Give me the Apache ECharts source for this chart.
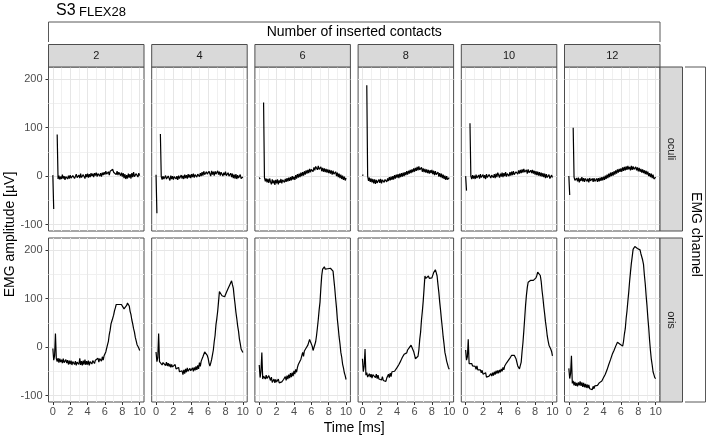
<!DOCTYPE html>
<html><head><meta charset="utf-8">
<script src="https://cdn.jsdelivr.net/npm/echarts@6/dist/echarts.min.js"></script>
<style>html,body{margin:0;padding:0;background:#fff}#c{width:708px;height:438px}</style>
</head><body><div id="c"></div>
<script>
// ---------- data ----------
const contacts = ['2', '4', '6', '8', '10', '12'];
const channels = ['oculi', 'oris'];
const xTicks = [0, 2, 4, 6, 8, 10];
const xMinor = [1, 3, 5, 7, 9];
const yTicks = [-100, 0, 100, 200];
const yMinor = [-50, 50, 150];
const time = [
 0,0.1,0.2,0.3,0.4,0.5,0.6,0.7,0.8,0.9,
 1,1.1,1.2,1.3,1.4,1.5,1.6,1.7,1.8,1.9,
 2,2.1,2.2,2.3,2.4,2.5,2.6,2.7,2.8,2.9,
 3,3.1,3.2,3.3,3.4,3.5,3.6,3.7,3.8,3.9,
 4,4.1,4.2,4.3,4.4,4.5,4.6,4.7,4.8,4.9,
 5,5.1,5.2,5.3,5.4,5.5,5.6,5.7,5.8,5.9,
 6,6.1,6.2,6.3,6.4,6.5,6.6,6.7,6.8,6.9,
 7,7.1,7.2,7.3,7.4,7.5,7.6,7.7,7.8,7.9,
 8,8.1,8.2,8.3,8.4,8.5,8.6,8.7,8.8,8.9,
 9,9.1,9.2,9.3,9.4,9.5,9.6,9.7,9.8,9.9,
 10];

const oculi2 = [
 2,-68,null,null,null,86,-6,1,-7,-1,
 -6,3,-5,0,-8,-1,3,-6,1,-5,
 2,-4,-8,1,3,-5,-1,4,-3,-7,
 2,-4,5,-3,-6,3,-1,-5,4,-2,
 5,-3,4,-2,6,0,5,-2,6,1,
 7,-1,5,8,0,6,-1,7,2,8,
 3,10,4,1,9,2,10,13,6,14,
 8,5,12,3,10,2,8,11,1,7,
 -1,6,-4,4,-6,2,-5,5,-3,4,
 -5,6,-2,8,-1,-4,5,7,-2,6,
 1];
const oculi4 = [
 3,-77,null,null,null,87,-1,-7,0,-6,
 -7,1,-6,-8,0,-4,-9,1,-6,0,
 -7,-1,2,-6,0,-8,1,-5,-7,2,
 -5,1,-6,3,-4,2,-5,4,-3,3,
 -4,4,-2,5,-3,3,6,-2,4,7,
 -1,6,0,8,1,10,3,0,9,4,
 1,10,5,0,11,3,9,1,10,4,
 2,11,3,9,1,8,10,0,7,2,
 9,1,-1,7,0,-3,6,-2,5,-4,
 3,-5,4,-6,2,-4,-7,3,-5,-8,
 -2];
const oculi6 = [
 -3,-6,null,null,null,152,-3,-11,-5,-13,
 -6,-14,-5,-12,-17,-7,-15,-9,-18,-8,
 -15,-7,-17,-9,-14,-6,-15,-8,-5,-13,
 -6,-12,-4,-11,-3,-10,-2,-9,0,-7,
 -1,-8,2,-5,4,-3,5,-2,7,0,
 8,1,10,3,12,5,13,6,15,8,
 14,17,9,18,12,20,22,13,21,14,
 16,19,10,17,9,16,8,15,7,14,
 6,13,5,12,3,11,4,1,9,0,
 7,-2,5,-4,3,-6,1,-8,-1,-9,
 -4];
const oculi8 = [
 1,3,null,null,null,188,0,-10,-3,-12,
 -5,-13,-6,-15,-7,-16,-8,-14,-17,-7,
 -14,-6,-15,-8,-5,-13,-7,-4,-12,-5,
 -10,-2,-9,-1,-8,0,-7,2,-5,3,
 -3,4,-4,5,-2,6,-1,7,0,8,
 2,10,3,11,5,13,6,14,8,16,
 9,17,11,19,12,20,13,10,18,9,
 16,8,15,7,14,6,13,5,12,6,
 13,4,11,2,10,3,0,8,-1,6,
 -2,5,-4,3,-6,1,-8,0,-7,-9,
 -3];
const oculi10 = [
 0,-30,null,null,null,109,0,-6,2,-5,
 1,-6,3,-4,-7,2,-5,4,-3,-5,
 3,-4,2,-6,4,-3,-5,3,5,-4,
 2,6,-3,4,-4,5,-2,7,3,-3,
 5,-1,7,-2,6,0,8,-1,5,7,
 0,8,1,9,2,10,3,1,9,11,
 4,12,5,13,6,14,7,15,8,6,
 13,5,14,7,4,12,6,13,5,11,
 3,10,2,9,1,8,0,7,-1,6,
 -2,5,-4,4,-3,-6,3,-5,-7,2,
 -3];
const oculi12 = [
 0,-39,null,null,null,100,-2,-9,-12,-4,
 -11,-3,-13,-5,-10,-2,-11,-4,-12,-5,
 -3,-11,-5,-13,-4,-10,-14,-5,-12,-4,
 -11,-14,-5,-12,-4,-11,-3,-10,-2,-9,
 -1,-8,1,-6,3,-4,5,-2,7,0,
 8,1,10,3,12,5,14,7,15,9,
 16,9,18,11,19,12,20,13,21,14,
 19,12,21,13,20,14,11,19,12,18,
 10,17,9,15,7,14,6,12,4,11,
 3,9,0,6,-2,5,-4,3,-6,-8,
 -2];

const oris2 = [
 -3,-27,-18,28,-24,-30,-23,-32,-24,-31,
 -26,-33,-24,-32,-35,-26,-33,-27,-36,-28,
 -35,-28,-37,-30,-27,-36,-29,-38,-31,-28,
 -36,-23,-37,-29,-38,-28,-36,-26,-37,-29,
 -36,-28,-38,-30,-27,-35,-28,-25,-34,-27,
 -30,-29,-23,-31,-24,-21,-29,-20,-27,-18,
 -19,-10,-8,5,12,26,35,48,54,60,
 66,75,81,88,89,91,88,91,87,88,
 90,84,79,81,76,86,91,87,85,74,
 67,56,48,38,31,20,13,5,6,-2,
 -7];
const oris4 = [
 -10,-30,-22,28,-30,-34,-33,-37,-32,-36,
 -32,-38,-31,-39,-33,-40,-35,-42,-36,-41,
 -37,-43,-36,-45,-43,-49,-42,-51,-50,-53,
 -49,-57,-47,-55,-45,-52,-43,-50,-53,-44,
 -49,-52,-43,-50,-42,-48,-40,-47,-38,-45,
 -32,-40,-29,-30,-20,-19,-10,-8,-9,-17,
 -23,-33,-39,-33,-26,-16,-6,11,24,46,
 59,74,94,115,111,112,106,104,105,104,
 107,113,113,121,124,129,131,137,129,122,
 104,89,72,59,44,33,17,7,-4,-7,
 -11];
const oris6 = [
 -37,-63,-50,-11,-66,-60,-56,-66,-58,-65,
 -68,-59,-62,-69,-62,-73,-75,-66,-74,-67,
 -72,-76,-66,-74,-77,-71,-72,-76,-67,-68,
 -61,-69,-59,-66,-57,-64,-54,-62,-53,-60,
 -49,-56,-46,-52,-42,-36,-36,-32,-25,-24,
 -11,-19,-8,-9,-2,-5,4,7,16,11,
 9,2,-7,-3,-4,11,24,40,57,77,
 93,123,148,161,165,166,161,164,159,162,
 158,163,163,167,160,157,139,121,100,81,
 57,40,21,7,-11,-21,-35,-43,-53,-59,
 -67];
const oris8 = [
 -24,-51,-40,-4,-58,-53,-62,-59,-55,-62,
 -56,-64,-57,-58,-59,-63,-56,-65,-58,-66,
 -63,-64,-68,-61,-69,-66,-66,-71,-64,-64,
 -56,-63,-54,-61,-51,-53,-52,-50,-48,-48,
 -42,-43,-36,-36,-29,-29,-21,-22,-15,-17,
 -11,-12,-6,-7,-1,-3,4,3,1,-9,
 -16,-24,-26,-25,-19,-6,16,31,56,74,
 95,121,147,142,142,141,147,142,146,140,
 143,147,154,156,160,154,147,129,113,93,
 76,57,40,21,6,-11,-19,-29,-33,-42,
 -46];
const oris10 = [
 -6,-27,-20,16,-34,-30,-37,-34,-39,-37,
 -42,-40,-46,-39,-47,-44,-49,-47,-53,-48,
 -56,-54,-60,-53,-62,-59,-60,-60,-62,-55,
 -60,-53,-59,-51,-57,-49,-55,-48,-54,-47,
 -52,-45,-50,-42,-47,-39,-40,-33,-34,-28,
 -29,-23,-24,-17,-19,-14,-17,-15,-24,-27,
 -39,-40,-45,-38,-31,-9,9,33,59,86,
 107,123,134,137,133,138,134,138,138,139,
 138,143,148,155,158,157,148,136,117,102,
 84,69,52,39,23,13,4,1,-4,-9,
 -18];
const oris12 = [
 -44,-65,-55,-18,-75,-70,-79,-72,-80,-74,
 -81,-73,-79,-71,-80,-73,-82,-74,-83,-76,
 -84,-77,-85,-78,-86,-83,-84,-88,-81,-86,
 -80,-81,-79,-79,-76,-74,-73,-72,-70,-69,
 -63,-64,-56,-55,-47,-46,-36,-35,-26,-24,
 -15,-15,-7,-7,2,2,10,10,12,6,
 9,2,2,12,27,38,59,75,95,114,
 136,155,173,187,202,203,208,205,205,204,
 205,201,201,193,189,180,171,149,131,107,
 86,61,40,14,-7,-25,-37,-51,-57,-63,
 -65];

const oculiSeries = [oculi2, oculi4, oculi6, oculi8, oculi10, oculi12];
const orisSeries = [oris2, oris4, oris6, oris8, oris10, oris12];

// ---------- layout ----------
const FONT = "'Liberation Sans', Arial, Helvetica, sans-serif";
const PL = 48.5, PS = 103.2, PW = 95.5;
const ROWT = [67, 238], PH = 164;
const XMIN = -0.5, XMAX = 10.5, YMIN = -113.5, YMAX = 225.5;
const BORDER = '#4d4d4d';
const MAJOR = '#E6E6E6', MINOR = '#F0F0F0';

const grids = [], xAxes = [], yAxes = [], series = [], graphics = [];
const rowData = [oculiSeries, orisSeries];

rowData.forEach((rowArr, r) => {
  rowArr.forEach((arr, c) => {
    const g = grids.length;
    grids.push({left: PL + c * PS, top: ROWT[r], width: PW, height: PH,
      show: true, borderColor: BORDER, borderWidth: 1, backgroundColor: '#fff'});
    xAxes.push({type: 'value', gridIndex: g, min: XMIN, max: XMAX, position: 'bottom',
      axisLine: {show: false, onZero: false},
      axisTick: {show: r === 1, customValues: xTicks, length: 3, lineStyle: {color: '#333'}},
      axisLabel: {show: r === 1, customValues: xTicks, margin: 4, color: '#4d4d4d', fontSize: 11, fontFamily: FONT},
      splitLine: {show: true, lineStyle: {color: MAJOR, width: 1}}, z: 1});
    xAxes.push({type: 'value', gridIndex: g, min: XMIN, max: XMAX, position: 'top',
      axisLine: {show: false, onZero: false}, axisTick: {show: false, customValues: xMinor},
      axisLabel: {show: false, customValues: xMinor},
      splitLine: {show: true, lineStyle: {color: MINOR, width: 1}}, z: 0});
    yAxes.push({type: 'value', gridIndex: g, min: YMIN, max: YMAX, position: 'left',
      axisLine: {show: false, onZero: false},
      axisTick: {show: c === 0, customValues: yTicks, length: 3, lineStyle: {color: '#333'}},
      axisLabel: {show: c === 0, customValues: yTicks, margin: 6, color: '#4d4d4d', fontSize: 11, fontFamily: FONT},
      splitLine: {show: true, lineStyle: {color: MAJOR, width: 1}}, z: 1});
    yAxes.push({type: 'value', gridIndex: g, min: YMIN, max: YMAX, position: 'right',
      axisLine: {show: false, onZero: false}, axisTick: {show: false, customValues: yMinor},
      axisLabel: {show: false, customValues: yMinor},
      splitLine: {show: true, lineStyle: {color: MINOR, width: 1}}, z: 0});
    series.push({type: 'line', xAxisIndex: 2 * g, yAxisIndex: 2 * g,
      data: time.map((t, i) => [t, arr[i] === null ? '-' : arr[i]]),
      showSymbol: false, symbol: 'none', connectNulls: false, clip: true, sampling: null,
      lineStyle: {color: '#000', width: 1.2}, z: 3, animation: false});
  });
});

// column strips
contacts.forEach((lab, c) => {
  const x = PL + c * PS;
  graphics.push({type: 'rect', shape: {x: x, y: 44.5, width: PW, height: 22.5},
    style: {fill: '#D9D9D9', stroke: BORDER, lineWidth: 1}, z: 10});
  graphics.push({type: 'text', x: x + PW / 2, y: 56, z: 11,
    style: {text: lab, fill: '#1a1a1a', font: '11px ' + FONT, textAlign: 'center', textVerticalAlign: 'middle'}});
});
// row strips
const RSX = PL + 5 * PS + PW;
channels.forEach((lab, r) => {
  graphics.push({type: 'rect', shape: {x: RSX, y: ROWT[r], width: 22.5, height: PH},
    style: {fill: '#D9D9D9', stroke: BORDER, lineWidth: 1}, z: 10});
  graphics.push({type: 'text', x: RSX + 11.5, y: ROWT[r] + PH / 2, rotation: -Math.PI / 2, z: 11,
    style: {text: lab, fill: '#1a1a1a', font: '11px ' + FONT, textAlign: 'center', textVerticalAlign: 'middle'}});
});
const PR = PL + 5 * PS + PW;
graphics.push({type: 'polyline', shape: {points: [[PL, 42], [PL, 22], [PR, 22], [PR, 42]]},
  style: {stroke: '#595959', lineWidth: 1, fill: null}, z: 10});
graphics.push({type: 'text', x: (PL + PR) / 2, y: 32.5, z: 11,
  style: {text: 'Number of inserted contacts', fill: '#000', font: '14px ' + FONT, textAlign: 'center', textVerticalAlign: 'middle'}});
graphics.push({type: 'polyline', shape: {points: [[685, ROWT[0]], [705.5, ROWT[0]], [705.5, ROWT[1] + PH], [685, ROWT[1] + PH]]},
  style: {stroke: '#595959', lineWidth: 1, fill: null}, z: 10});
graphics.push({type: 'text', x: 695.5, y: (ROWT[0] + ROWT[1] + PH) / 2, rotation: -Math.PI / 2, z: 11,
  style: {text: 'EMG channel', fill: '#000', font: '14px ' + FONT, textAlign: 'center', textVerticalAlign: 'middle'}});
graphics.push({type: 'text', x: 10, y: (ROWT[0] + ROWT[1] + PH) / 2, rotation: Math.PI / 2, z: 11,
  style: {text: 'EMG amplitude [µV]', fill: '#000', font: '14px ' + FONT, textAlign: 'center', textVerticalAlign: 'middle'}});
graphics.push({type: 'text', x: (PL + PR) / 2, y: 428, z: 11,
  style: {text: 'Time [ms]', fill: '#000', font: '14px ' + FONT, textAlign: 'center', textVerticalAlign: 'middle'}});
graphics.push({type: 'text', x: 56, y: 19, z: 11,
  style: {text: 'S3', fill: '#000', font: '16px ' + FONT, textAlign: 'left', textVerticalAlign: 'bottom'}});
graphics.push({type: 'text', x: 79, y: 19, z: 11,
  style: {text: 'FLEX28', fill: '#000', font: '13px ' + FONT, textAlign: 'left', textVerticalAlign: 'bottom'}});

const chart = echarts.init(document.getElementById('c'), null, {renderer: 'canvas'});
chart.setOption({
  animation: false,
  backgroundColor: '#fff',
  textStyle: {fontFamily: FONT},
  grid: grids, xAxis: xAxes, yAxis: yAxes, series: series,
  graphic: {elements: graphics}
});
</script>
</body></html>
